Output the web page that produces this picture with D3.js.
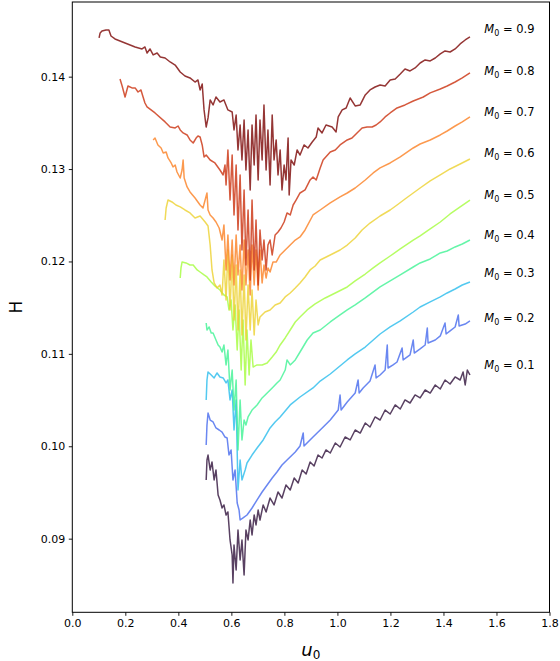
<!DOCTYPE html>
<html>
<head>
<meta charset="utf-8">
<script src="https://cdn.jsdelivr.net/npm/d3@7"></script>
<style>
  body { margin: 0; background: #fff; }
  svg { display: block; font-family: "DejaVu Sans", sans-serif; }
</style>
</head>
<body>
<div id="graph"></div>
<script>
// values, [u0, H]
var m09 = [[0.101,0.14419],[0.105,0.14473],[0.112,0.14495],[0.127,0.14505],[0.138,0.14505],[0.146,0.14440],[0.161,0.14408],[0.199,0.14365],[0.237,0.14321],[0.263,0.14300],[0.274,0.14321],[0.282,0.14256],[0.293,0.14300],[0.305,0.14235],[0.320,0.14256],[0.332,0.14213],[0.350,0.14202],[0.369,0.14159],[0.388,0.14126],[0.407,0.14051],[0.425,0.14007],[0.444,0.13986],[0.463,0.13942],[0.474,0.13964],[0.482,0.13856],[0.490,0.13921],[0.497,0.13640],[0.505,0.13455],[0.512,0.13553],[0.520,0.13748],[0.531,0.13694],[0.542,0.13780],[0.557,0.13726],[0.572,0.13748],[0.587,0.13640],[0.603,0.13618],[0.610,0.13423],[0.618,0.13585],[0.625,0.13207],[0.633,0.13477],[0.640,0.13098],[0.648,0.13531],[0.655,0.12990],[0.663,0.13423],[0.671,0.12774],[0.678,0.13477],[0.686,0.13044],[0.693,0.13585],[0.701,0.12882],[0.708,0.13531],[0.716,0.13098],[0.723,0.13694],[0.731,0.12990],[0.738,0.13423],[0.746,0.12828],[0.754,0.13585],[0.761,0.13098],[0.769,0.13315],[0.776,0.12936],[0.784,0.13207],[0.791,0.12774],[0.799,0.13044],[0.806,0.12882],[0.814,0.13336],[0.818,0.12719],[0.825,0.13098],[0.837,0.13044],[0.848,0.13207],[0.859,0.13152],[0.874,0.13261],[0.889,0.13228],[0.905,0.13293],[0.920,0.13347],[0.927,0.13445],[0.942,0.13391],[0.957,0.13477],[0.980,0.13455],[0.995,0.13401],[1.003,0.13564],[1.018,0.13640],[1.033,0.13661],[1.048,0.13769],[1.067,0.13683],[1.086,0.13694],[1.105,0.13802],[1.123,0.13856],[1.142,0.13888],[1.161,0.13910],[1.180,0.13900],[1.199,0.13964],[1.218,0.13975],[1.237,0.14029],[1.255,0.14083],[1.274,0.14062],[1.293,0.14094],[1.312,0.14148],[1.331,0.14181],[1.350,0.14170],[1.369,0.14202],[1.388,0.14246],[1.406,0.14278],[1.425,0.14267],[1.444,0.14300],[1.463,0.14354],[1.482,0.14397],[1.500,0.14430]];

var m08 = [[0.180,0.13975],[0.188,0.13899],[0.199,0.13780],[0.206,0.13856],[0.210,0.13899],[0.225,0.13878],[0.237,0.13878],[0.248,0.13834],[0.259,0.13856],[0.267,0.13780],[0.274,0.13715],[0.282,0.13672],[0.312,0.13607],[0.350,0.13510],[0.369,0.13455],[0.388,0.13445],[0.399,0.13466],[0.407,0.13423],[0.418,0.13391],[0.433,0.13369],[0.444,0.13315],[0.456,0.13282],[0.467,0.13336],[0.474,0.13358],[0.482,0.13347],[0.490,0.13261],[0.497,0.13131],[0.505,0.13152],[0.520,0.13098],[0.538,0.13066],[0.557,0.12990],[0.569,0.12936],[0.576,0.13044],[0.580,0.12828],[0.587,0.13207],[0.595,0.12665],[0.603,0.13152],[0.610,0.12503],[0.618,0.13044],[0.625,0.12341],[0.633,0.12936],[0.640,0.12124],[0.648,0.12774],[0.655,0.11962],[0.663,0.12557],[0.671,0.11800],[0.678,0.12665],[0.686,0.11908],[0.693,0.12449],[0.701,0.11745],[0.708,0.12341],[0.716,0.12016],[0.723,0.12232],[0.731,0.11908],[0.738,0.12178],[0.746,0.12232],[0.754,0.12070],[0.765,0.12287],[0.776,0.12319],[0.787,0.12362],[0.799,0.12427],[0.810,0.12525],[0.822,0.12503],[0.833,0.12611],[0.844,0.12665],[0.859,0.12741],[0.878,0.12774],[0.897,0.12882],[0.908,0.12914],[0.920,0.12882],[0.935,0.13012],[0.946,0.13098],[0.973,0.13185],[0.992,0.13207],[1.010,0.13261],[1.037,0.13315],[1.055,0.13336],[1.074,0.13391],[1.093,0.13445],[1.112,0.13455],[1.131,0.13455],[1.146,0.13477],[1.161,0.13510],[1.180,0.13564],[1.199,0.13607],[1.225,0.13661],[1.255,0.13694],[1.286,0.13737],[1.324,0.13780],[1.350,0.13824],[1.388,0.13867],[1.414,0.13899],[1.444,0.13942],[1.471,0.13986],[1.500,0.14040]];

var m07 = [[0.305,0.13315],[0.312,0.13336],[0.323,0.13261],[0.335,0.13228],[0.343,0.13174],[0.354,0.13185],[0.361,0.13120],[0.373,0.13066],[0.380,0.13023],[0.388,0.13044],[0.395,0.12968],[0.407,0.12903],[0.414,0.12990],[0.418,0.13098],[0.422,0.12903],[0.433,0.12806],[0.444,0.12752],[0.463,0.12687],[0.482,0.12611],[0.493,0.12579],[0.501,0.12665],[0.508,0.12741],[0.512,0.12557],[0.520,0.12503],[0.531,0.12471],[0.542,0.12427],[0.554,0.12362],[0.565,0.12232],[0.572,0.12395],[0.580,0.11908],[0.587,0.12287],[0.595,0.11800],[0.603,0.12232],[0.610,0.11745],[0.618,0.12287],[0.625,0.11854],[0.633,0.12178],[0.640,0.11691],[0.648,0.12232],[0.655,0.11745],[0.663,0.12124],[0.671,0.11637],[0.678,0.12178],[0.686,0.11745],[0.693,0.12124],[0.701,0.11691],[0.708,0.12124],[0.716,0.11767],[0.723,0.11962],[0.731,0.11821],[0.738,0.11930],[0.746,0.11886],[0.757,0.11994],[0.769,0.11994],[0.784,0.12070],[0.803,0.12124],[0.822,0.12178],[0.841,0.12232],[0.859,0.12265],[0.878,0.12341],[0.908,0.12503],[0.935,0.12557],[0.973,0.12633],[1.010,0.12698],[1.037,0.12741],[1.067,0.12795],[1.105,0.12882],[1.135,0.12958],[1.161,0.13012],[1.199,0.13066],[1.237,0.13131],[1.286,0.13228],[1.312,0.13271],[1.350,0.13315],[1.388,0.13369],[1.414,0.13412],[1.444,0.13466],[1.471,0.13510],[1.500,0.13564]];

var m06 = [[0.350,0.12449],[0.354,0.12579],[0.361,0.12665],[0.376,0.12644],[0.391,0.12611],[0.407,0.12590],[0.425,0.12557],[0.444,0.12525],[0.463,0.12471],[0.482,0.12492],[0.501,0.12427],[0.512,0.12384],[0.520,0.12178],[0.527,0.11908],[0.535,0.11767],[0.546,0.11713],[0.557,0.11745],[0.565,0.11637],[0.572,0.12016],[0.580,0.11583],[0.587,0.12124],[0.595,0.11475],[0.603,0.12070],[0.610,0.11367],[0.618,0.11962],[0.625,0.11258],[0.633,0.11908],[0.640,0.11204],[0.648,0.11854],[0.655,0.11150],[0.663,0.11745],[0.671,0.11258],[0.678,0.11691],[0.686,0.11204],[0.693,0.11583],[0.701,0.11313],[0.708,0.11399],[0.727,0.11453],[0.746,0.11475],[0.765,0.11529],[0.784,0.11551],[0.803,0.11616],[0.822,0.11659],[0.841,0.11713],[0.859,0.11767],[0.878,0.11832],[0.897,0.11908],[0.916,0.11951],[0.935,0.12016],[0.973,0.12070],[1.010,0.12124],[1.037,0.12178],[1.067,0.12254],[1.093,0.12341],[1.123,0.12416],[1.161,0.12492],[1.199,0.12557],[1.225,0.12611],[1.255,0.12676],[1.286,0.12741],[1.312,0.12795],[1.350,0.12871],[1.388,0.12936],[1.425,0.13001],[1.463,0.13055],[1.500,0.13109]];

var m05 = [[0.407,0.11821],[0.410,0.11930],[0.414,0.11994],[0.429,0.11984],[0.444,0.11962],[0.456,0.11962],[0.471,0.11908],[0.482,0.11886],[0.497,0.11854],[0.508,0.11832],[0.524,0.11778],[0.538,0.11735],[0.557,0.11691],[0.572,0.11637],[0.584,0.11616],[0.591,0.11475],[0.599,0.11583],[0.606,0.11258],[0.614,0.11529],[0.622,0.11042],[0.629,0.11475],[0.637,0.10825],[0.644,0.11367],[0.652,0.10663],[0.659,0.11258],[0.667,0.10771],[0.674,0.11150],[0.682,0.10858],[0.697,0.10880],[0.716,0.10880],[0.735,0.10901],[0.754,0.10966],[0.769,0.11020],[0.784,0.11096],[0.803,0.11172],[0.822,0.11258],[0.841,0.11345],[0.859,0.11399],[0.886,0.11475],[0.916,0.11540],[0.954,0.11605],[0.992,0.11659],[1.037,0.11724],[1.067,0.11789],[1.105,0.11864],[1.135,0.11930],[1.161,0.11984],[1.199,0.12059],[1.237,0.12135],[1.286,0.12232],[1.312,0.12276],[1.350,0.12352],[1.388,0.12427],[1.425,0.12514],[1.463,0.12590],[1.500,0.12665]];

var m04 = [[0.505,0.11334],[0.508,0.11258],[0.516,0.11291],[0.524,0.11226],[0.531,0.11226],[0.542,0.11150],[0.550,0.11096],[0.557,0.11074],[0.565,0.11020],[0.572,0.11096],[0.580,0.10880],[0.587,0.11042],[0.595,0.10609],[0.603,0.10825],[0.610,0.10392],[0.618,0.10717],[0.625,0.09960],[0.633,0.10501],[0.640,0.10068],[0.648,0.10284],[0.655,0.10230],[0.663,0.10317],[0.678,0.10392],[0.697,0.10447],[0.716,0.10523],[0.735,0.10576],[0.754,0.10631],[0.772,0.10685],[0.784,0.10717],[0.803,0.10825],[0.810,0.10934],[0.822,0.10880],[0.841,0.10934],[0.859,0.11020],[0.886,0.11150],[0.908,0.11226],[0.935,0.11258],[0.973,0.11345],[1.010,0.11421],[1.037,0.11475],[1.067,0.11529],[1.105,0.11605],[1.161,0.11724],[1.199,0.11789],[1.237,0.11854],[1.286,0.11940],[1.312,0.11984],[1.350,0.12027],[1.388,0.12092],[1.414,0.12113],[1.444,0.12157],[1.471,0.12189],[1.500,0.12232]];

var m03 = [[0.505,0.10501],[0.508,0.10717],[0.512,0.10804],[0.524,0.10771],[0.535,0.10739],[0.546,0.10793],[0.557,0.10750],[0.569,0.10739],[0.580,0.10685],[0.587,0.10717],[0.595,0.10501],[0.603,0.10609],[0.610,0.10176],[0.618,0.10501],[0.625,0.09527],[0.633,0.09851],[0.640,0.09635],[0.652,0.09743],[0.659,0.09819],[0.678,0.09905],[0.697,0.09981],[0.720,0.10068],[0.746,0.10198],[0.765,0.10263],[0.784,0.10317],[0.822,0.10447],[0.859,0.10533],[0.908,0.10631],[0.935,0.10706],[0.973,0.10782],[1.037,0.10934],[1.067,0.10999],[1.105,0.11074],[1.161,0.11215],[1.199,0.11291],[1.237,0.11356],[1.286,0.11453],[1.312,0.11507],[1.350,0.11562],[1.388,0.11616],[1.414,0.11659],[1.444,0.11702],[1.471,0.11745],[1.500,0.11778]];

var m02 = [[0.505,0.10014],[0.508,0.10230],[0.512,0.10360],[0.520,0.10284],[0.531,0.10263],[0.542,0.10198],[0.554,0.10176],[0.565,0.10154],[0.576,0.10100],[0.584,0.10089],[0.591,0.09905],[0.599,0.09960],[0.606,0.09635],[0.614,0.09743],[0.622,0.09386],[0.629,0.09310],[0.633,0.09202],[0.644,0.09224],[0.659,0.09256],[0.678,0.09332],[0.697,0.09419],[0.716,0.09505],[0.735,0.09581],[0.754,0.09657],[0.772,0.09722],[0.791,0.09797],[0.810,0.09851],[0.841,0.09938],[0.859,0.10003],[0.871,0.10143],[0.874,0.10003],[0.908,0.10100],[0.935,0.10176],[0.973,0.10284],[1.003,0.10392],[1.010,0.10555],[1.014,0.10392],[1.037,0.10479],[1.067,0.10576],[1.078,0.10717],[1.082,0.10576],[1.097,0.10631],[1.123,0.10706],[1.142,0.10880],[1.146,0.10739],[1.161,0.10771],[1.180,0.10825],[1.188,0.11096],[1.191,0.10847],[1.210,0.10880],[1.225,0.10912],[1.244,0.11064],[1.248,0.10934],[1.274,0.10988],[1.286,0.11150],[1.290,0.11009],[1.312,0.11053],[1.331,0.11096],[1.339,0.11280],[1.342,0.11118],[1.369,0.11150],[1.388,0.11194],[1.406,0.11334],[1.410,0.11215],[1.425,0.11248],[1.444,0.11291],[1.456,0.11421],[1.459,0.11302],[1.482,0.11323],[1.500,0.11356]];

var m01 = [[0.505,0.09635],[0.508,0.09851],[0.512,0.09905],[0.520,0.09743],[0.527,0.09830],[0.535,0.09635],[0.542,0.09743],[0.550,0.09473],[0.557,0.09419],[0.565,0.09332],[0.572,0.09365],[0.580,0.09256],[0.587,0.09289],[0.595,0.08986],[0.603,0.08823],[0.606,0.08520],[0.610,0.08932],[0.618,0.08661],[0.625,0.09094],[0.633,0.08769],[0.640,0.08986],[0.648,0.08607],[0.655,0.09094],[0.663,0.08986],[0.671,0.09202],[0.678,0.09040],[0.686,0.09256],[0.693,0.09148],[0.701,0.09310],[0.708,0.09202],[0.720,0.09365],[0.731,0.09289],[0.746,0.09440],[0.761,0.09365],[0.776,0.09505],[0.791,0.09440],[0.806,0.09581],[0.822,0.09527],[0.837,0.09657],[0.852,0.09603],[0.867,0.09743],[0.882,0.09700],[0.897,0.09830],[0.912,0.09787],[0.927,0.09905],[0.942,0.09873],[0.957,0.09960],[0.973,0.09927],[0.992,0.10035],[1.010,0.09992],[1.029,0.10100],[1.048,0.10068],[1.067,0.10176],[1.086,0.10143],[1.105,0.10252],[1.123,0.10208],[1.142,0.10317],[1.161,0.10284],[1.180,0.10392],[1.199,0.10349],[1.218,0.10447],[1.237,0.10403],[1.255,0.10501],[1.274,0.10468],[1.293,0.10555],[1.312,0.10523],[1.331,0.10609],[1.350,0.10576],[1.369,0.10663],[1.388,0.10620],[1.406,0.10717],[1.425,0.10674],[1.444,0.10750],[1.463,0.10717],[1.474,0.10804],[1.482,0.10663],[1.490,0.10825],[1.500,0.10771]];

var series = [m01, m02, m03, m04, m05, m06, m07, m08, m09];
var m0Values = ["0.1", "0.2", "0.3", "0.4", "0.5", "0.6", "0.7", "0.8", "0.9"];
var colors = ["#30123b", "#4569ee", "#28bbec", "#3ff393", "#a4fc3c", "#ecd12e", "#fb8022", "#cb2f0d", "#7a0403"];
// vertical position of each right-hand label (H units)
var labelH = [0.10880, 0.11388, 0.11875, 0.12287, 0.12719, 0.13174, 0.13618, 0.14062, 0.14516];
var labelU = 1.554;

var xTicks = [0.0, 0.2, 0.4, 0.6, 0.8, 1.0, 1.2, 1.4, 1.6, 1.8];
var yTicks = [0.09, 0.10, 0.11, 0.12, 0.13, 0.14];

var w = 560, h = 661;
var padLeft = 72.3, padRight = 549.5, padTop = 2, padBottom = 612.3;

var xScale = d3.scaleLinear().domain([0, 1.8]).range([padLeft, padRight]);
var yScale = d3.scaleLinear().domain([0.08203, 0.14808]).range([padBottom, padTop]);

var svg = d3.select("#graph").append("svg")
    .attr("width", w)
    .attr("height", h);

var line = d3.line()
    .x(function(d) { return xScale(d[0]); })
    .y(function(d) { return yScale(d[1]); });

series.forEach(function(s, i) {
  svg.append("path")
      .datum(s)
      .attr("d", line)
      .attr("fill", "none")
      .attr("stroke", colors[i])
      .attr("stroke-opacity", 0.8)
      .attr("stroke-width", 1.5)
      .attr("stroke-linejoin", "round");
});

// labels M0 = ...
m0Values.forEach(function(v, i) {
  var t = svg.append("text")
      .attr("x", xScale(labelU))
      .attr("y", yScale(labelH[i]))
      .attr("dy", "0.35em")
      .attr("font-size", "11.5px")
      .attr("fill", "#000");
  t.append("tspan").attr("font-style", "italic").text("M");
  t.append("tspan").attr("font-size", "8px").attr("dy", "3").text("0");
  t.append("tspan").attr("dy", "-3").text(" = " + v);
});

// axes
var xAxis = d3.axisBottom(xScale)
    .tickValues(xTicks)
    .tickSize(3.5)
    .tickPadding(3.5)
    .tickFormat(d3.format(".1f"));

var yAxis = d3.axisLeft(yScale)
    .tickValues(yTicks)
    .tickSize(3.5)
    .tickPadding(3.5)
    .tickFormat(d3.format(".2f"));

var gx = svg.append("g")
    .attr("transform", "translate(0," + padBottom + ")")
    .call(xAxis);
var gy = svg.append("g")
    .attr("transform", "translate(" + padLeft + ",0)")
    .call(yAxis);

[gx, gy].forEach(function(g) {
  g.select(".domain").remove();
  g.selectAll("text").attr("font-size", "11px").attr("fill", "#000")
      .attr("font-family", "DejaVu Sans, sans-serif");
  g.selectAll("line").attr("stroke", "#000").attr("stroke-width", 0.9);
});

// frame
svg.append("rect")
    .attr("x", padLeft)
    .attr("y", padTop)
    .attr("width", padRight - padLeft)
    .attr("height", padBottom - padTop)
    .attr("fill", "none")
    .attr("stroke", "#000")
    .attr("stroke-width", 1);

// axis titles
svg.append("text")
    .attr("transform", "translate(22," + ((padTop + padBottom) / 2) + ") rotate(-90)")
    .attr("text-anchor", "middle")
    .attr("font-size", "17px")
    .text("H");

var xl = svg.append("text")
    .attr("x", (padLeft + padRight) / 2)
    .attr("y", 656)
    .attr("text-anchor", "middle")
    .attr("font-size", "18px");
xl.append("tspan").attr("font-style", "italic").text("u");
xl.append("tspan").attr("font-size", "12px").attr("dy", "2.5").text("0");
</script>
</body>
</html>
